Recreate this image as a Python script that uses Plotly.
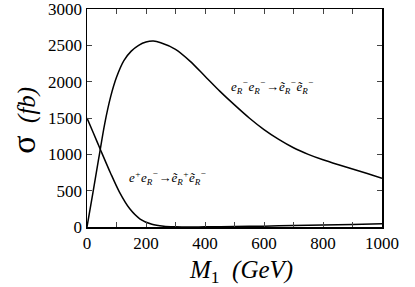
import plotly.graph_objects as go

# e- e- -> selectron selectron (R R)
m_ee = [0, 20, 40, 60, 80, 100, 125, 150, 175, 200, 225, 250, 300, 350, 400, 450,
        500, 550, 600, 650, 700, 750, 800, 850, 900, 950, 1000]
s_ee = [0, 470, 950, 1420, 1790, 2060, 2290, 2420, 2500, 2545, 2558, 2535, 2445, 2280,
        2075, 1870, 1680, 1500, 1340, 1205, 1090, 1000, 925, 860, 798, 735, 672]

# e+ e- -> selectron+ selectron-
m_pe = [0, 22, 45, 80, 110, 145, 180, 220, 260, 300, 350, 400, 500, 600, 700, 800, 900, 1000]
s_pe = [1500, 1290, 1070, 740, 480, 250, 110, 38, 12, 4, 1, 2, 6, 12, 20, 28, 36, 44]

x_ticks = [0, 200, 400, 600, 800, 1000]
y_ticks = [0, 500, 1000, 1500, 2000, 2500, 3000]

fig = go.Figure()
fig.add_trace(go.Scatter(x=m_ee, y=s_ee, mode="lines", line=dict(color="black", width=1.5, shape="spline", smoothing=0.8)))
fig.add_trace(go.Scatter(x=m_pe, y=s_pe, mode="lines", line=dict(color="black", width=1.5, shape="spline", smoothing=0.8)))

serif = "Times New Roman, Liberation Serif, serif"
fig.update_layout(
    width=415, height=287,
    margin=dict(l=87, r=33, t=9, b=60, autoexpand=False),
    paper_bgcolor="white", plot_bgcolor="white",
    showlegend=False,
    font=dict(family=serif, size=17, color="black"),
)
fig.update_xaxes(
    range=[0, 1000], tickvals=x_ticks, ticks="inside", ticklen=5, tickwidth=1,
    showline=True, linecolor="black", linewidth=1.5, mirror="ticks", showgrid=False, zeroline=False,
    minor=dict(dtick=100, ticks="inside", ticklen=5, tickwidth=1, showgrid=False),
    tickfont=dict(family=serif, size=17), automargin=False, ticklabeloverflow="allow",
)
fig.update_yaxes(
    range=[0, 3000], tickvals=y_ticks, ticks="inside", ticklen=5, tickwidth=1,
    showline=True, linecolor="black", linewidth=1.5, mirror="ticks", showgrid=False, zeroline=False,
    tickfont=dict(family=serif, size=17), automargin=False, ticklabeloverflow="allow",
)

# axis titles
fig.add_annotation(x=0.522, y=-0.205, xref="paper", yref="paper", showarrow=False,
                   text="<i>M</i><sub>1</sub>  <i>(GeV)</i>", font=dict(family=serif, size=25),
                   xanchor="center", yanchor="middle")
fig.add_annotation(x=-0.2136, y=0.492, xref="paper", yref="paper", showarrow=False, textangle=-90,
                   text="<span style='font-size:34px'>σ</span>  <i>(fb)</i>", font=dict(family=serif, size=25),
                   xanchor="center", yanchor="middle")

fig.add_annotation(x=630, y=1921, xref="x", yref="y", showarrow=False,
                   text="<i>e<sub>R</sub><sup>−</sup>e<sub>R</sub><sup>−</sup>→ẽ<sub>R</sub><sup>−</sup>ẽ<sub>R</sub><sup>−</sup></i>",
                   font=dict(family=serif, size=13))
fig.add_annotation(x=272, y=680, xref="x", yref="y", showarrow=False,
                   text="<i>e<sup>+</sup>e<sub>R</sub><sup>−</sup>→ẽ<sub>R</sub><sup>+</sup>ẽ<sub>R</sub><sup>−</sup></i>",
                   font=dict(family=serif, size=13))

fig.write_html("out.html", config=dict(displayModeBar=False, staticPlot=True),
               post_script="document.body.style.margin='0px';")
